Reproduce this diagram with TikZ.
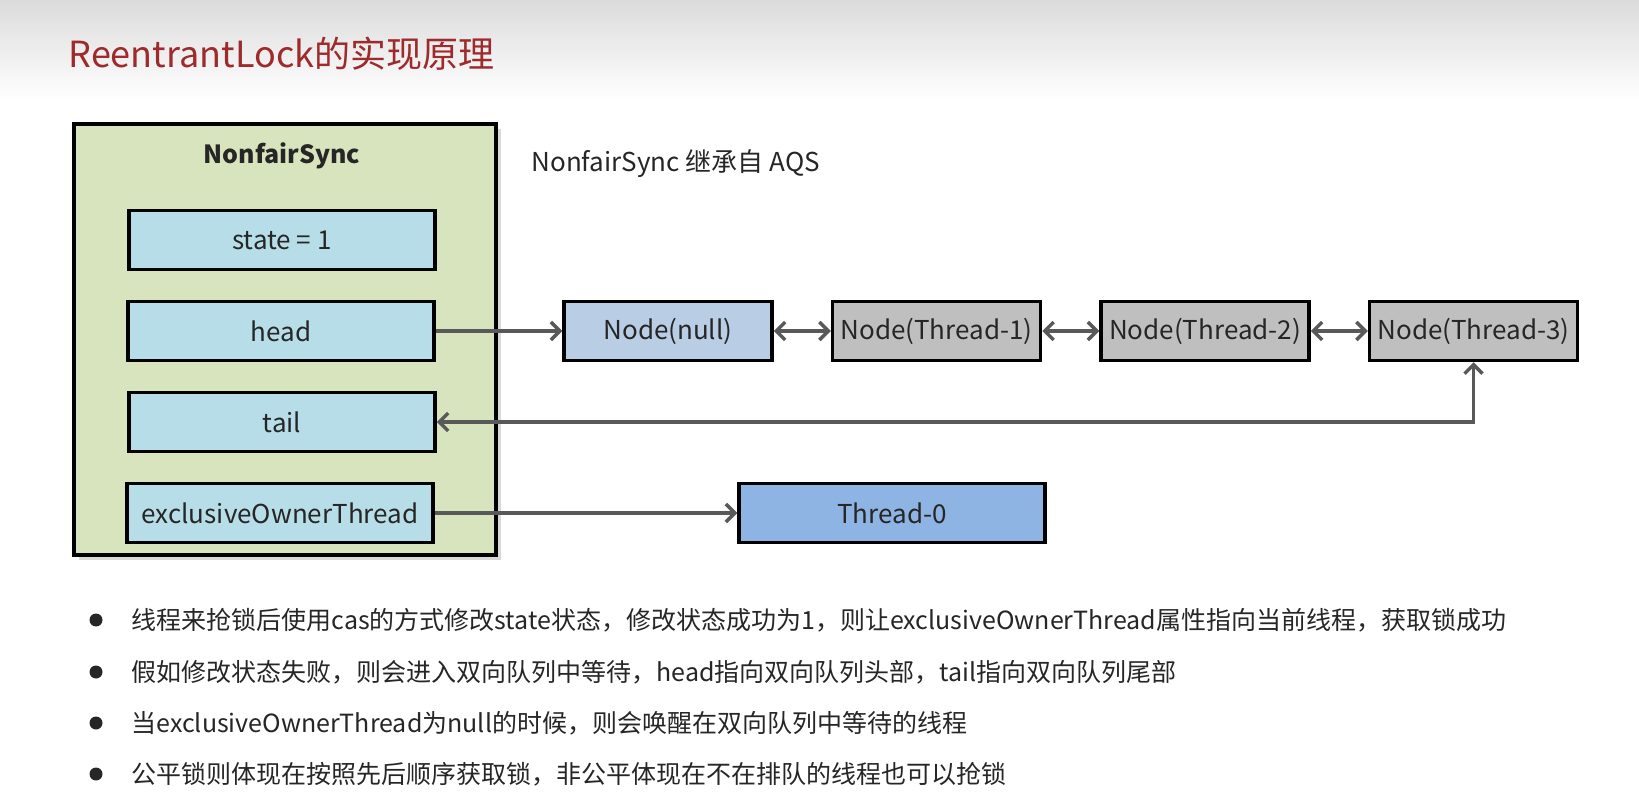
\documentclass[tikz,border=0pt]{standalone}
\usepackage{fontspec}
\setmainfont{Noto Sans CJK SC}
\usepackage{tikz}
\usetikzlibrary{positioning, arrows.meta, shadows}

\definecolor{titlered}{HTML}{9E2A2B}
\definecolor{syncgreen}{HTML}{D7E4BD}
\definecolor{fieldblue}{HTML}{B7DEE8}
\definecolor{nullblue}{HTML}{B9CDE5}
\definecolor{waitgray}{HTML}{BFBFBF}
\definecolor{ownerblue}{HTML}{8EB4E3}
\definecolor{linkgray}{HTML}{595959}
\definecolor{textgray}{HTML}{262626}

\begin{document}
\begin{tikzpicture}[x=1pt, y=-1pt,
  field/.style={draw=black, line width=3.5pt, fill=fieldblue, minimum width=306pt, minimum height=59pt, inner sep=0pt, text=textgray, font=\fontsize{26}{30}\selectfont},
  qnode/.style={draw=black, line width=3.5pt, fill=waitgray, minimum width=208pt, minimum height=59pt, inner sep=0pt, text=textgray, font=\fontsize{26}{30}\selectfont},
  link/.style={draw=linkgray, line width=3.5pt, -{Straight Barb[length=9pt, width=18pt]}},
  dot/.style={circle, fill=textgray, minimum size=13pt, inner sep=0pt},
  note/.style={anchor=base west, text=textgray, font=\fontsize{25}{30}\selectfont}]
\useasboundingbox (0,0) rectangle (1639,799);
\fill[white] (0,0) rectangle (1639,799);
\shade[top color=gray!28, bottom color=white] (0,0) rectangle (1639,100);
\node[anchor=base west, text=titlered, font=\fontsize{36}{42}\selectfont] (title) at (65,68) {ReentrantLock的实现原理};

% NonfairSync
\draw[line width=4.5pt, fill=syncgreen, drop shadow={shadow xshift=5pt, shadow yshift=-5pt, opacity=0.3, fill=gray}] (74,124) rectangle (496,555);
\node[anchor=base, text=textgray, font=\bfseries\fontsize{25}{30}\selectfont] (sync) at (282,164) {NonfairSync};
\node[field] (st) at (282,240) {state = 1};
\node[field] (hd) at (281,331) {head};
\node[field] (tl) at (282,422) {tail};
\node[field] (ow) at (280,513) {exclusiveOwnerThread};
\node[anchor=base west, text=textgray, font=\fontsize{26}{30}\selectfont] (aqs) at (528,172) {NonfairSync 继承自 AQS};

% queue
\node[qnode, fill=nullblue] (n0) at (668,331) {Node(null)};
\node[qnode, right=57pt of n0] (n1) {Node(Thread-1)};
\node[qnode, right=57pt of n1] (n2) {Node(Thread-2)};
\node[qnode, right=57pt of n2] (n3) {Node(Thread-3)};
\node[field, fill=ownerblue] (t0) at (892,513) {Thread-0};

\draw[link] (hd) -- (n0);
\draw[link, {Straight Barb[length=9pt, width=18pt]}-{Straight Barb[length=9pt, width=18pt]}] (n0) -- (n1);
\draw[link, {Straight Barb[length=9pt, width=18pt]}-{Straight Barb[length=9pt, width=18pt]}] (n1) -- (n2);
\draw[link, {Straight Barb[length=9pt, width=18pt]}-{Straight Barb[length=9pt, width=18pt]}] (n2) -- (n3);
\draw[link, {Straight Barb[length=9pt, width=18pt]}-{Straight Barb[length=9pt, width=18pt]}] (tl.east) -- (n3.south |- tl.east) -- (n3.south);
\draw[link] (ow) -- (t0);

% notes
\node[dot] (d1) at (96,620) {};
\node[dot] (d2) at (96,672) {};
\node[dot] (d3) at (96,723) {};
\node[dot] (d4) at (96,774) {};
\node[note] (l1) at (128,629) {线程来抢锁后使用cas的方式修改state状态，修改状态成功为1，则让exclusiveOwnerThread属性指向当前线程，获取锁成功};
\node[note] (l2) at (128,681) {假如修改状态失败，则会进入双向队列中等待，head指向双向队列头部，tail指向双向队列尾部};
\node[note] (l3) at (128,732) {当exclusiveOwnerThread为null的时候，则会唤醒在双向队列中等待的线程};
\node[note] (l4) at (128,783) {公平锁则体现在按照先后顺序获取锁，非公平体现在不在排队的线程也可以抢锁};
\end{tikzpicture}
\end{document}
